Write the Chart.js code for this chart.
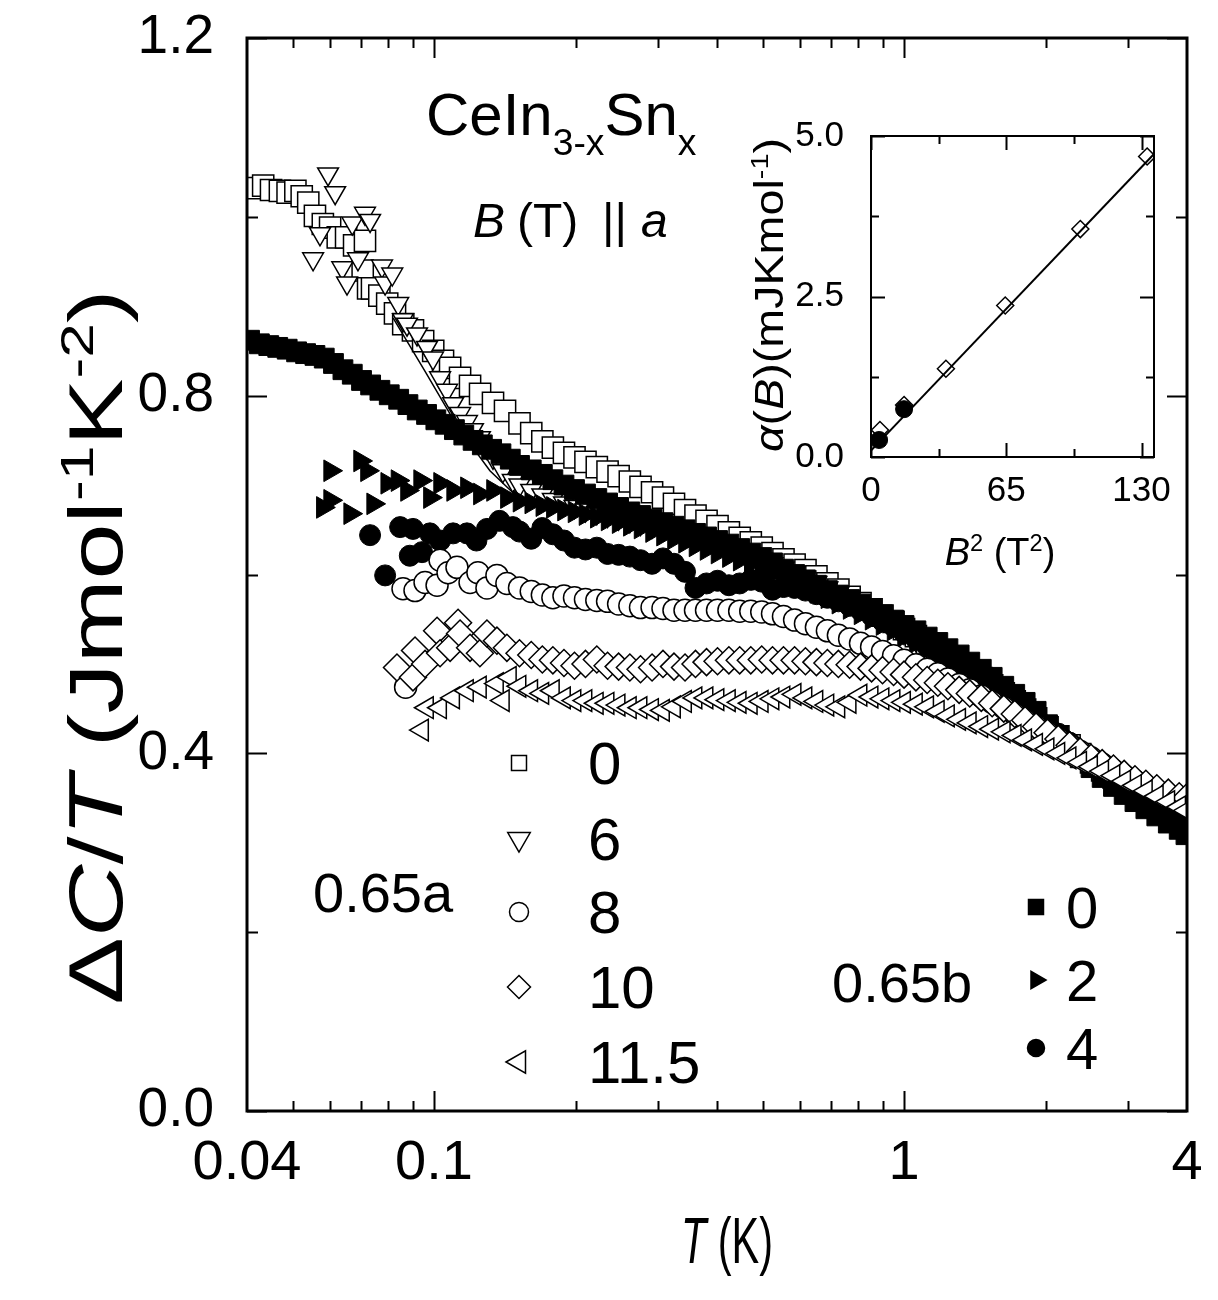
<!DOCTYPE html>
<html>
<head>
<meta charset="utf-8">
<script src="https://cdn.jsdelivr.net/npm/chart.js@4.4.1/dist/chart.umd.min.js"></script>
<style>
  html, body { margin: 0; padding: 0; background: #fff; }
  #wrap { position: relative; width: 1218px; height: 1300px; }
  #main { position: absolute; left: 0; top: 0; }
  #inset { position: absolute; left: 740px; top: 100px; }
</style>
</head>
<body>
<div id="wrap">
  <canvas id="main" width="1218" height="1300"></canvas>
  <canvas id="inset" width="440" height="500"></canvas>
</div>
<script>
// field labels of the two legend groups
const fieldsA = ['0', '6', '8', '10', '11.5'];
const fieldsB = ['0', '2', '4'];

// shared temperature points (K) for the high-T part of every curve
const tHigh = [0.152,0.161,0.170,0.179,0.189,0.199,0.210,0.222,0.234,0.247,
  0.261,0.275,0.291,0.307,0.324,0.342,0.360,0.380,0.401,0.424,
  0.447,0.472,0.498,0.525,0.554,0.585,0.617,0.651,0.687,0.725,
  0.766,0.808,0.853,0.900,0.950,1.00,1.06,1.12,1.18,1.24,
  1.31,1.38,1.46,1.54,1.63,1.72,1.81,1.91,2.02,2.13,
  2.25,2.37,2.50,2.64,2.79,2.94,3.10,3.27,3.45,3.65,
  3.85,3.98];

// 0.65a, B = 0 T (open squares)
const tA0 = [0.0417,0.0433,0.0450,0.0470,0.0488,0.0507,0.0523,0.0540,0.0558,0.0580,
  0.0601,0.0624,0.0650,0.0676,0.0705,0.0713,0.0724,0.0738,0.0765,0.0795,
  0.0826,0.0860,0.0902,0.0948,0.0996,0.1045,0.1082,0.1136,0.1193,0.1253,
  0.1335,0.1416];
const cA0 = [1.032,1.035,1.030,1.029,1.027,1.029,1.023,1.016,1.001,0.992,
  0.988,0.977,0.977,0.968,0.940,0.973,0.920,0.920,0.912,0.903,
  0.892,0.880,0.873,0.861,0.850,0.839,0.831,0.820,0.811,0.802,
  0.792,0.783];
const cA0High = [0.769,0.758,0.749,0.742,0.736,0.731,0.726,0.720,0.715,0.710,
  0.704,0.698,0.692,0.686,0.679,0.672,0.666,0.660,0.654,0.647,
  0.641,0.636,0.630,0.624,0.617,0.611,0.605,0.598,0.590,0.583,
  0.575,0.568,0.561,0.554,0.547,0.539,0.531,0.523,0.515,0.508,
  0.500,0.492,0.484,0.476,0.467,0.458,0.449,0.439,0.429,0.419,
  0.409,0.399,0.390,0.381,0.373,0.366,0.360,0.354,0.349,0.345,
  0.341,0.339];

// 0.65a, B = 6 T (open down triangles)
const tA6 = [0.0553,0.0572,0.0595,0.0616,0.0638,0.0653,0.0670,0.0689,0.0713,0.0731,
  0.0775,0.0787,0.0815,0.0839,0.0859,0.0876,0.0920,0.0966,0.0995,0.1030,
  0.1066,0.1098,0.1136,0.1175,0.1210,0.1252,0.1296,0.1335,0.1401,0.1471];
const cA6 = [0.953,0.981,1.048,1.027,0.943,0.926,0.993,0.953,1.004,0.996,
  0.945,0.926,0.936,0.903,0.885,0.880,0.869,0.854,0.842,0.820,
  0.806,0.791,0.780,0.771,0.762,0.753,0.742,0.731,0.716,0.705];
const cA6High = [0.700,0.694,0.689,0.684,0.680,0.676,0.672,0.669,0.666,0.663,
  0.660,0.657,0.654,0.651,0.648,0.645,0.641,0.637,0.633,0.629,
  0.625,0.621,0.617,0.612,0.607,0.602,0.597,0.591,0.585,0.579,
  0.572,0.565,0.558,0.551,0.543,0.535,0.527,0.519,0.511,0.502,
  0.494,0.485,0.476,0.467,0.458,0.449,0.440,0.431,0.422,0.413,
  0.404,0.396,0.388,0.380,0.373,0.367,0.361,0.356,0.351,0.347,
  0.343,0.341];

// 0.65a, B = 8 T (open circles)
const tA8 = [0.0870,0.0859,0.0911,0.0957,0.1015,0.1030,0.1071,0.1119,0.1193,0.1240,
  0.1296,0.1361,0.1429];
const cA8 = [0.474,0.584,0.582,0.591,0.588,0.616,0.602,0.608,0.591,0.602,
  0.585,0.599,0.590];
const cA8High = [0.585,0.581,0.577,0.574,0.576,0.574,0.572,0.571,0.570,0.567,
  0.565,0.563,0.563,0.562,0.560,0.560,0.560,0.560,0.560,0.560,
  0.559,0.559,0.558,0.556,0.553,0.549,0.545,0.541,0.537,0.532,
  0.528,0.523,0.519,0.514,0.509,0.504,0.499,0.494,0.489,0.483,
  0.477,0.471,0.464,0.457,0.451,0.444,0.437,0.430,0.423,0.416,
  0.409,0.402,0.395,0.388,0.381,0.375,0.369,0.363,0.358,0.353,
  0.349,0.347];

// 0.65a, B = 10 T (open diamonds)
const tA10 = [0.0834,0.0902,0.0911,0.0957,0.1015,0.1030,0.1082,0.1125,0.1136,0.1193,
  0.1252,0.1296,0.1361,0.1429];
const cA10 = [0.496,0.485,0.515,0.500,0.537,0.512,0.518,0.546,0.534,0.518,
  0.512,0.534,0.526,0.518];
const cA10High = [0.512,0.510,0.505,0.504,0.501,0.498,0.500,0.505,0.498,0.497,
  0.496,0.494,0.496,0.500,0.497,0.496,0.500,0.502,0.503,0.504,
  0.504,0.504,0.505,0.504,0.504,0.504,0.503,0.502,0.501,0.500,
  0.499,0.497,0.495,0.493,0.491,0.488,0.485,0.482,0.479,0.475,
  0.471,0.467,0.462,0.456,0.450,0.444,0.437,0.430,0.423,0.416,
  0.409,0.402,0.395,0.389,0.383,0.377,0.371,0.366,0.361,0.356,
  0.352,0.350];

// 0.65a, B = 11.5 T (open left triangles)
const tA115 = [0.0943,0.0966,0.1030,0.1098,0.1175,0.1252,0.1361,0.1401,0.1450];
const cA115 = [0.426,0.451,0.451,0.462,0.470,0.474,0.478,0.459,0.485];
const cA115High = [0.475,0.470,0.467,0.470,0.462,0.459,0.459,0.456,0.456,0.454,
  0.451,0.451,0.449,0.448,0.452,0.458,0.462,0.462,0.460,0.459,
  0.457,0.456,0.458,0.461,0.463,0.466,0.462,0.458,0.454,0.452,
  0.457,0.465,0.463,0.461,0.459,0.457,0.455,0.452,0.447,0.442,
  0.438,0.434,0.430,0.427,0.424,0.420,0.415,0.410,0.405,0.400,
  0.395,0.390,0.385,0.380,0.375,0.369,0.364,0.358,0.352,0.346,
  0.340,0.336];

// 0.65b, B = 0 T (filled squares)
const tB0 = [0.0405,0.0425,0.0445,0.0465,0.0487,0.0510,0.0533,0.0558,0.0584,0.0611,
  0.0640,0.0670,0.0701,0.0733,0.0767,0.0803,0.0841,0.0880,0.0921,0.0964,
  0.1009,0.1056,0.1105,0.1157,0.1211,0.1267,0.1326,0.1388,0.1453];
const cB0 = [0.862,0.858,0.856,0.854,0.852,0.849,0.847,0.845,0.842,0.836,
  0.829,0.824,0.817,0.812,0.806,0.801,0.796,0.790,0.784,0.779,
  0.773,0.768,0.762,0.756,0.750,0.745,0.740,0.735,0.729];
const cB0High = [0.722,0.717,0.712,0.706,0.700,0.695,0.690,0.685,0.680,0.675,
  0.670,0.666,0.662,0.658,0.654,0.650,0.646,0.642,0.638,0.634,
  0.629,0.624,0.619,0.613,0.606,0.600,0.594,0.588,0.582,0.577,
  0.572,0.567,0.561,0.555,0.549,0.543,0.537,0.530,0.524,0.517,
  0.510,0.502,0.494,0.485,0.475,0.466,0.457,0.447,0.432,0.420,
  0.407,0.395,0.384,0.373,0.363,0.354,0.346,0.338,0.330,0.322,
  0.315,0.309];

// 0.65b, B = 2 T (filled right triangles)
const tB2 = [0.0580,0.0601,0.0601,0.0663,0.0696,0.0720,0.0742,0.0795,0.0836,0.0876,
  0.0934,0.0980,0.1030,0.1098,0.1175,0.1252,0.1335,0.1429];
const cB2 = [0.675,0.716,0.683,0.668,0.727,0.716,0.679,0.702,0.705,0.694,
  0.705,0.686,0.702,0.694,0.697,0.690,0.694,0.686];
const cB2High = [0.682,0.680,0.677,0.675,0.672,0.670,0.667,0.664,0.661,0.658,
  0.655,0.652,0.648,0.644,0.640,0.636,0.632,0.628,0.624,0.620,
  0.616,0.612,0.607,0.602,0.597,0.592,0.586,0.580,0.574,0.568,
  0.562,0.556,0.550,0.544,0.538,0.531,0.524,0.517,0.510,0.503,
  0.496,0.489,0.482,0.474,0.466,0.458,0.450,0.442,0.433,0.424,
  0.415,0.406,0.397,0.388,0.379,0.371,0.363,0.355,0.348,0.341,
  0.334,0.330];

// 0.65b, B = 4 T (filled circles)
const tB4 = [0.0731,0.0787,0.0847,0.0888,0.0902,0.0943,0.0980,0.1030,0.1098,0.1175,
  0.1231,0.1296,0.1378,0.1471];
const cB4 = [0.644,0.599,0.653,0.621,0.651,0.625,0.646,0.638,0.646,0.646,
  0.638,0.651,0.660,0.653];
const cB4High = [0.648,0.640,0.652,0.645,0.638,0.630,0.628,0.630,0.623,0.622,
  0.620,0.616,0.612,0.618,0.612,0.603,0.585,0.590,0.593,0.588,
  0.590,0.594,0.592,0.583,0.586,0.585,0.582,0.578,0.574,0.570,
  0.565,0.560,0.554,0.548,0.542,0.535,0.528,0.520,0.512,0.504,
  0.496,0.488,0.480,0.472,0.464,0.456,0.447,0.438,0.430,0.422,
  0.412,0.402,0.394,0.386,0.378,0.370,0.362,0.355,0.348,0.341,
  0.335,0.331];

// thin fit line through the 6 T data
const tFit = [0.0818,0.0955,0.112,0.1315,0.153];
const cFit = [0.887,0.828,0.766,0.716,0.683];

// inset: alpha(B) against B^2
const b2Diamond = [4.3,15.9,36.0,64.5,100.6,132.7];
const alphaDiamond = [0.42,0.81,1.375,2.36,3.55,4.68];
const b2Circle = [3.9,15.9];
const alphaCircle = [0.265,0.745];
const b2Line = [0,136];
const alphaLine = [0.10,4.72];

// tick values
const xTicks = [0.04, 0.1, 1, 4];
const xMajor = [0.1, 1];
const xMinor = [0.05,0.06,0.07,0.08,0.09,0.2,0.3,0.4,0.5,0.6,0.7,0.8,0.9,2,3];
const yTicks = [0, 0.4, 0.8, 1.2];
const yMinor = [0.2, 0.6, 1.0];
const insetXTicks = [0, 65, 130];
const insetXMinor = [32.5, 97.5];
const insetYTicks = [0, 2.5, 5];
const insetYMinor = [1.25, 3.75];

const FONT = '"Liberation Sans", Arial, Helvetica, sans-serif';

function pts(t, c) {
  return t.map((v, i) => ({ x: v, y: c[i] }));
}

// keep the plot area where we put it: no extra room for overhanging labels
function noPad(s) {
  s.paddingTop = 0; s.paddingBottom = 0; s.paddingLeft = 0; s.paddingRight = 0;
}

function fontOf(run, size) {
  const s = (run.sup || run.sub) ? size * 0.62 : size;
  return (run.it ? 'italic ' : '') + s.toFixed(1) + 'px ' + FONT;
}

function runsWidth(ctx, runs, size) {
  let w = 0;
  runs.forEach(r => { ctx.font = fontOf(r, size); w += ctx.measureText(r.t).width; });
  return w;
}

// draw text made of runs (italic / super / subscript), sx stretches it horizontally
function drawRuns(ctx, runs, x, y, size, align, sx) {
  sx = sx || 1;
  const w = runsWidth(ctx, runs, size) * sx;
  let cx = align === 'center' ? x - w / 2 : (align === 'right' ? x - w : x);
  ctx.save();
  ctx.fillStyle = '#000';
  ctx.textAlign = 'left';
  ctx.textBaseline = 'alphabetic';
  runs.forEach(r => {
    ctx.font = fontOf(r, size);
    const dy = r.sup ? -size * 0.38 : (r.sub ? size * 0.33 : 0);
    ctx.save();
    ctx.translate(cx, y + dy);
    ctx.scale(sx, 1);
    ctx.fillText(r.t, 0, 0);
    ctx.restore();
    cx += ctx.measureText(r.t).width * sx;
  });
  ctx.restore();
}

function marker(ctx, style, r, rot, x, y, filled) {
  ctx.save();
  ctx.fillStyle = filled ? '#000' : '#fff';
  ctx.strokeStyle = '#000';
  ctx.lineWidth = 1.5;
  Chart.helpers.drawPoint(ctx, { pointStyle: style, radius: r, rotation: rot || 0, borderWidth: 1.5 }, x, y);
  ctx.restore();
}

const mainDecor = {
  id: 'mainDecor',
  afterDraw(chart) {
    const { ctx, chartArea: a, scales: { x, y } } = chart;
    ctx.save();
    ctx.strokeStyle = '#000';
    ctx.lineWidth = 2;
    ctx.beginPath();
    const tx = (v, len) => {
      const p = Math.round(x.getPixelForValue(v)) + 0.5;
      ctx.moveTo(p, a.bottom); ctx.lineTo(p, a.bottom - len);
      ctx.moveTo(p, a.top); ctx.lineTo(p, a.top + len);
    };
    const ty = (v, len) => {
      const p = Math.round(y.getPixelForValue(v)) + 0.5;
      ctx.moveTo(a.left, p); ctx.lineTo(a.left + len, p);
      ctx.moveTo(a.right, p); ctx.lineTo(a.right - len, p);
    };
    xMajor.forEach(v => tx(v, 20));
    xMinor.forEach(v => tx(v, 10));
    yTicks.forEach(v => ty(v, 20));
    yMinor.forEach(v => ty(v, 11));
    ctx.stroke();
    ctx.lineWidth = 3;
    ctx.strokeRect(a.left, a.top, a.right - a.left, a.bottom - a.top);
    ctx.restore();

    // compound name and field direction
    drawRuns(ctx, [{ t: 'CeIn' }, { t: '3-x', sub: true }, { t: 'Sn' }, { t: 'x', sub: true }], 426, 135, 60, 'left');
    drawRuns(ctx, [{ t: 'B', it: true }], 473, 237, 48, 'left');
    drawRuns(ctx, [{ t: '(T)' }], 517, 237, 48, 'left');
    drawRuns(ctx, [{ t: '||' }], 602, 237, 48, 'left');
    drawRuns(ctx, [{ t: 'a', it: true }], 641, 237, 48, 'left');

    // legend 0.65a
    const specA = [['rect', 10.6, 0], ['triangle', 13, 180], ['circle', 9.5, 0], ['rectRot', 11.5, 0], ['triangle', 13, 270]];
    const rowsA = [763, 839, 912, 987, 1062];
    fieldsA.forEach((f, i) => {
      marker(ctx, specA[i][0], specA[i][1], specA[i][2], 519, rowsA[i], false);
      drawRuns(ctx, [{ t: f }], 588, rowsA[i] + 21, 60, 'left');
    });
    drawRuns(ctx, [{ t: '0.65a' }], 313, 912, 56, 'left');

    // legend 0.65b
    const specB = [['rect', 10.6, 0], ['triangle', 10, 90], ['circle', 8.5, 0]];
    const rowsB = [907, 980, 1048];
    fieldsB.forEach((f, i) => {
      marker(ctx, specB[i][0], specB[i][1], specB[i][2], 1036, rowsB[i], true);
      drawRuns(ctx, [{ t: f }], 1066, rowsB[i] + 21, 58, 'left');
    });
    drawRuns(ctx, [{ t: '0.65b' }], 832, 1002, 56, 'left');

    // axis titles
    const xt = [{ t: 'T', it: true }, { t: ' (K)' }];
    drawRuns(ctx, xt, 727, 1263, 64, 'center', 92 / runsWidth(ctx, xt, 64));
    const yt = [{ t: '\u0394' }, { t: 'C', it: true }, { t: '/' }, { t: 'T', it: true }, { t: ' (Jmol' },
      { t: '-1', sup: true }, { t: 'K' }, { t: '-2', sup: true }, { t: ')' }];
    ctx.save();
    ctx.translate(122, 647);
    ctx.rotate(-Math.PI / 2);
    drawRuns(ctx, yt, 0, 0, 76, 'center', 715 / runsWidth(ctx, yt, 76));
    ctx.restore();
  }
};

const open = { backgroundColor: '#fff', borderColor: '#000', borderWidth: 1.5, showLine: false };
const solid = { backgroundColor: '#000', borderColor: '#000', borderWidth: 1, showLine: false };

new Chart(document.getElementById('main'), {
  type: 'scatter',
  data: {
    datasets: [
      { label: 'fit', data: pts(tFit, cFit), showLine: true, pointRadius: 0, borderColor: '#000', borderWidth: 1.5, order: 0 },
      Object.assign({ label: '0.65a 11.5', data: pts(tA115.concat(tHigh), cA115.concat(cA115High)), pointStyle: 'triangle', rotation: 270, pointRadius: 12.5, order: 1 }, open),
      Object.assign({ label: '0.65a 10', data: pts(tA10.concat(tHigh), cA10.concat(cA10High)), pointStyle: 'rectRot', pointRadius: 13.5, order: 2 }, open),
      Object.assign({ label: '0.65a 8', data: pts(tA8.concat(tHigh), cA8.concat(cA8High)), pointStyle: 'circle', pointRadius: 11, order: 3 }, open),
      Object.assign({ label: '0.65b 4', data: pts(tB4.concat(tHigh), cB4.concat(cB4High)), pointStyle: 'circle', pointRadius: 10.5, order: 4 }, solid),
      Object.assign({ label: '0.65b 2', data: pts(tB2.concat(tHigh), cB2.concat(cB2High)), pointStyle: 'triangle', rotation: 90, pointRadius: 12.5, order: 5 }, solid),
      Object.assign({ label: '0.65b 0', data: pts(tB0.concat(tHigh), cB0.concat(cB0High)), pointStyle: 'rect', pointRadius: 14, order: 6 }, solid),
      Object.assign({ label: '0.65a 6', data: pts(tA6.concat(tHigh), cA6.concat(cA6High)), pointStyle: 'triangle', rotation: 180, pointRadius: 12, order: 7 }, open),
      Object.assign({ label: '0.65a 0', data: pts(tA0.concat(tHigh), cA0.concat(cA0High)), pointStyle: 'rect', pointRadius: 15, order: 8 }, open)
    ]
  },
  options: {
    responsive: false,
    animation: false,
    devicePixelRatio: 1,
    events: [],
    layout: { padding: { left: 0, right: 31, top: 38, bottom: 0 } },
    plugins: { legend: { display: false }, tooltip: { enabled: false } },
    scales: {
      x: {
        type: 'logarithmic',
        min: 0.04,
        max: 4,
        afterBuildTicks: s => { s.ticks = xTicks.map(v => ({ value: v })); },
        afterFit: s => { s.height = 189; noPad(s); },
        grid: { display: false },
        border: { display: false },
        ticks: {
          autoSkip: false, maxRotation: 0, padding: 11, color: '#000',
          font: { family: FONT, size: 56 },
          callback: v => String(v)
        }
      },
      y: {
        min: 0,
        max: 1.2,
        afterBuildTicks: s => { s.ticks = yTicks.map(v => ({ value: v })); },
        afterFit: s => { s.width = 247; noPad(s); },
        grid: { display: false },
        border: { display: false },
        ticks: {
          padding: 25, color: '#000',
          font: { family: FONT, size: 55 },
          callback: v => v.toFixed(1)
        }
      }
    }
  },
  plugins: [mainDecor]
});

const insetDecor = {
  id: 'insetDecor',
  afterDraw(chart) {
    const { ctx, chartArea: a, scales: { x, y } } = chart;
    ctx.save();
    ctx.strokeStyle = '#000';
    ctx.lineWidth = 2;
    ctx.beginPath();
    const tx = (v, len) => {
      const p = Math.round(x.getPixelForValue(v)) + 0.5;
      ctx.moveTo(p, a.bottom); ctx.lineTo(p, a.bottom - len);
      ctx.moveTo(p, a.top); ctx.lineTo(p, a.top + len);
    };
    const ty = (v, len) => {
      const p = Math.round(y.getPixelForValue(v)) + 0.5;
      ctx.moveTo(a.left, p); ctx.lineTo(a.left + len, p);
      ctx.moveTo(a.right, p); ctx.lineTo(a.right - len, p);
    };
    insetXTicks.forEach(v => tx(v, 14));
    insetXMinor.forEach(v => tx(v, 8));
    insetYTicks.forEach(v => ty(v, 14));
    insetYMinor.forEach(v => ty(v, 8));
    ctx.stroke();
    ctx.strokeRect(a.left, a.top, a.right - a.left, a.bottom - a.top);
    ctx.restore();

    drawRuns(ctx, [{ t: 'B', it: true }, { t: '2', sup: true }, { t: ' (T' }, { t: '2', sup: true }, { t: ')' }], 260, 465, 38, 'center');
    const at = [{ t: '\u03B1', it: true }, { t: '(' }, { t: 'B', it: true }, { t: ')(mJKmol' }, { t: '-1', sup: true }, { t: ')' }];
    ctx.save();
    ctx.translate(43, 195);
    ctx.rotate(-Math.PI / 2);
    drawRuns(ctx, at, 0, 0, 40, 'center', 314 / runsWidth(ctx, at, 40));
    ctx.restore();
  }
};

new Chart(document.getElementById('inset'), {
  type: 'scatter',
  data: {
    datasets: [
      Object.assign({ label: 'circles', data: pts(b2Circle, alphaCircle), pointStyle: 'circle', pointRadius: 8.5, order: 0 }, solid),
      { label: 'fit', data: pts(b2Line, alphaLine), showLine: true, pointRadius: 0, borderColor: '#000', borderWidth: 2, order: 1 },
      Object.assign({ label: 'diamonds', data: pts(b2Diamond, alphaDiamond), pointStyle: 'rectRot', pointRadius: 8.5, order: 2 }, open)
    ]
  },
  options: {
    responsive: false,
    animation: false,
    devicePixelRatio: 1,
    events: [],
    layout: { padding: { left: 0, right: 26, top: 36, bottom: 0 } },
    plugins: { legend: { display: false }, tooltip: { enabled: false } },
    scales: {
      x: {
        type: 'linear', min: 0, max: 136,
        afterBuildTicks: s => { s.ticks = insetXTicks.map(v => ({ value: v })); },
        afterFit: s => { s.height = 143; noPad(s); },
        grid: { display: false },
        border: { display: false },
        ticks: { autoSkip: false, maxRotation: 0, padding: 5, color: '#000', font: { family: FONT, size: 35 } }
      },
      y: {
        min: 0, max: 5,
        afterBuildTicks: s => { s.ticks = insetYTicks.map(v => ({ value: v })); },
        afterFit: s => { s.width = 131; noPad(s); },
        grid: { display: false },
        border: { display: false },
        ticks: { padding: 19, color: '#000', font: { family: FONT, size: 35 }, callback: v => v.toFixed(1) }
      }
    }
  },
  plugins: [insetDecor]
});
</script>
</body>
</html>
